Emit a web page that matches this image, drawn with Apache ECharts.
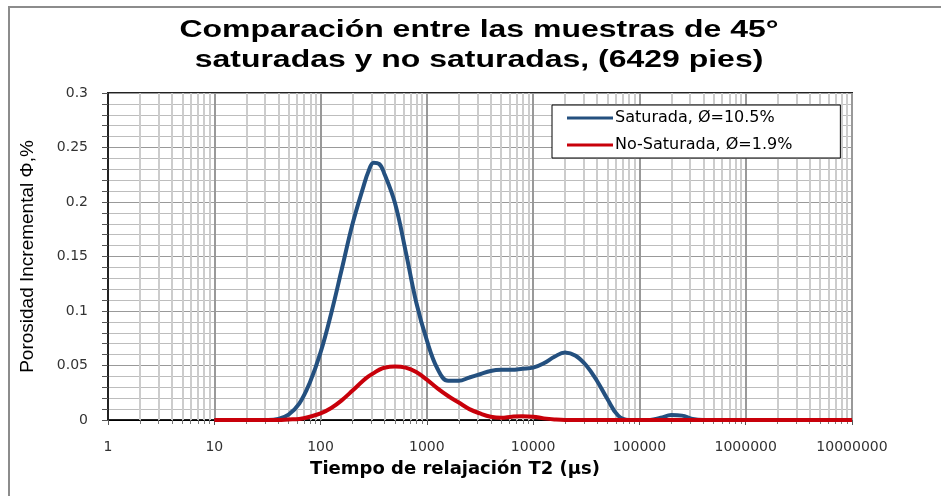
<!DOCTYPE html>
<html>
<head>
<meta charset="utf-8">
<script src="https://cdn.jsdelivr.net/npm/echarts@6/dist/echarts.min.js"></script>
<style>
  html, body { margin: 0; padding: 0; background: #fff; }
  #chart { width: 941px; height: 496px; }
</style>
</head>
<body>
<div id="chart"></div>
<script>
// T2 relaxation times (µs), log-spaced sample points
const t2Times = [10, 32, 40, 50, 63, 79, 100, 126, 158, 200, 251, 282, 316, 355, 398, 501, 631, 794,
  1000, 1259, 1585, 1995, 2512, 3162, 3981, 5012, 6310, 7943, 10000, 12589, 15849, 19953,
  25119, 31623, 39811, 50119, 63096, 79433, 100000, 125893, 158489, 199526, 251189, 316228,
  398107, 501187, 1000000, 10000000];

// Incremental porosity, saturated sample
const saturada = [0, 0, 0.001, 0.005, 0.015, 0.034, 0.062, 0.098, 0.138, 0.180, 0.213, 0.228, 0.236,
  0.235, 0.226, 0.199, 0.155, 0.108, 0.073, 0.047, 0.036, 0.036, 0.039, 0.042, 0.045, 0.046, 0.046,
  0.047, 0.048, 0.052, 0.058, 0.062, 0.059, 0.050, 0.036, 0.019, 0.004, 0, 0, 0, 0.002, 0.0045,
  0.004, 0.001, 0, 0, 0, 0];

// Incremental porosity, non-saturated sample
const noSaturada = [0, 0, 0, 0.0005, 0.001, 0.003, 0.006, 0.011, 0.018, 0.027, 0.036, 0.040, 0.043,
  0.046, 0.048, 0.049, 0.048, 0.044, 0.037, 0.029, 0.022, 0.016, 0.010, 0.006, 0.003, 0.002, 0.003,
  0.0035, 0.003, 0.0015, 0.0005, 0, 0, 0, 0, 0, 0, 0, 0, 0, 0, 0, 0, 0, 0, 0, 0, 0];

const seriesNames = ['Saturada, Ø=10.5%', 'No-Saturada, Ø=1.9%'];
const titleLines = ['Comparación entre las muestras de 45°', 'saturadas y no saturadas, (6429 pies)'];
const xName = 'Tiempo de relajación T2 (µs)';
const yName = 'Porosidad Incremental Φ,%';

const pairs = (xs, ys) => xs.map((x, i) => [x, ys[i]]);

const chart = echarts.init(document.getElementById('chart'), null, { renderer: 'canvas' });

// one wide heading line, horizontally stretched like the original artwork
const headingLine = (text, y) => ({
  type: 'text',
  x: 479,
  y: y,
  scaleX: 1.39,
  scaleY: 1,
  silent: true,
  z: 10,
  style: {
    text: text,
    align: 'center',
    verticalAlign: 'middle',
    fontFamily: 'Liberation Sans, Arial, sans-serif',
    fontWeight: 'bold',
    fontSize: 23,
    fill: '#000'
  }
});

chart.setOption({
  animation: false,
  backgroundColor: '#ffffff',
  graphic: [
    {
      // outer chart frame
      type: 'rect',
      shape: { x: 9, y: 7, width: 1000, height: 600 },
      style: { fill: 'none', stroke: '#8c8c8c', lineWidth: 2 },
      silent: true
    },
    headingLine(titleLines[0], 31),
    headingLine(titleLines[1], 61)
  ],
  legend: {
    orient: 'vertical',
    left: 552,
    top: 105,
    padding: [4, 48, 4, 15],
    itemGap: 9,
    itemWidth: 46,
    itemHeight: 3,
    icon: 'rect',
    backgroundColor: '#fff',
    borderColor: '#000',
    borderWidth: 1,
    borderRadius: 0,
    textStyle: {
      fontFamily: 'DejaVu Sans, sans-serif',
      fontSize: 16,
      lineHeight: 18,
      color: '#000',
      padding: [0, 0, 0, -3]
    },
    data: seriesNames
  },
  grid: {
    left: 108,
    right: 89,
    top: 93,
    bottom: 76,
    show: true,
    borderColor: '#222',
    borderWidth: 2,
    backgroundColor: 'transparent'
  },
  xAxis: {
    type: 'log',
    logBase: 10,
    min: 1,
    max: 10000000,
    name: xName,
    nameLocation: 'middle',
    nameGap: 40,
    nameTextStyle: {
      fontFamily: 'DejaVu Sans, sans-serif',
      fontWeight: 'bold',
      fontSize: 18,
      color: '#000',
      padding: [0, 50, 0, 0]
    },
    axisLine: { show: true, lineStyle: { color: '#000', width: 1 } },
    axisTick: { show: true, length: 5, lineStyle: { color: '#555' } },
    minorTick: { show: true, splitNumber: 9, length: 4, lineStyle: { color: '#777' } },
    splitLine: { show: true, lineStyle: { color: '#999999', width: 2 } },
    minorSplitLine: { show: true, lineStyle: { color: '#cccccc', width: 2 } },
    axisLabel: {
      margin: 20,
      fontFamily: 'DejaVu Sans, sans-serif',
      fontSize: 14,
      color: '#333',
      formatter: v => String(Math.round(v))
    }
  },
  yAxis: {
    type: 'value',
    min: 0,
    max: 0.3,
    interval: 0.05,
    name: yName,
    nameLocation: 'middle',
    nameRotate: 90,
    nameGap: 71,
    nameTextStyle: {
      fontFamily: 'Liberation Sans Narrow, Liberation Sans, Arial, sans-serif',
      fontSize: 19,
      color: '#000'
    },
    axisLine: { show: true, lineStyle: { color: '#222', width: 2 } },
    axisTick: { show: true, length: 6, lineStyle: { color: '#555' } },
    minorTick: { show: true, splitNumber: 5, length: 6, lineStyle: { color: '#555' } },
    splitLine: { show: true, lineStyle: { color: '#999999', width: 1 } },
    minorSplitLine: { show: true, lineStyle: { color: '#bdbdbd', width: 1 } },
    axisLabel: {
      margin: 20,
      fontFamily: 'DejaVu Sans, sans-serif',
      fontSize: 14,
      color: '#333'
    }
  },
  series: [
    {
      name: seriesNames[0],
      type: 'line',
      data: pairs(t2Times, saturada),
      smooth: 0.4,
      showSymbol: false,
      symbol: 'none',
      color: '#24507f',
      lineStyle: { color: '#24507f', width: 4 },
      z: 3
    },
    {
      name: seriesNames[1],
      type: 'line',
      data: pairs(t2Times, noSaturada),
      smooth: 0.4,
      showSymbol: false,
      symbol: 'none',
      color: '#c8000a',
      lineStyle: { color: '#c8000a', width: 4 },
      z: 4
    }
  ]
});
</script>
</body>
</html>
